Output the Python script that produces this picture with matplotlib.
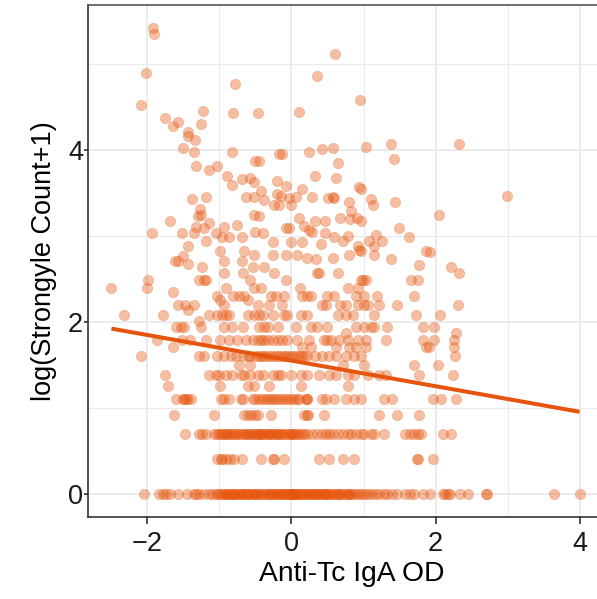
import numpy as np
import matplotlib
matplotlib.use("Agg")
import matplotlib.pyplot as plt

# ---- data: Anti-Tc IgA OD (x) grouped by strongyle count rows ----
x_count0 = [-2.05, -1.84, -1.78, -1.74, -1.69, -1.58, -1.45, -1.36, -1.33, -1.28, -1.21, -1.14, -1.10, -1.05,
            -1.02, -0.99, -0.96, -0.94, -0.91, -0.88, -0.86, -0.83, -0.80, -0.78, -0.75, -0.72, -0.70, -0.67,
            -0.64, -0.62, -0.59, -0.56, -0.54, -0.51, -0.48, -0.46, -0.43, -0.41, -0.38, -0.35, -0.33, -0.30,
            -0.27, -0.25, -0.22, -0.19, -0.17, -0.14, -0.12, -0.09, -0.06, -0.04, -0.01, 0.01, 0.03, 0.06, 0.08,
            0.11, 0.13, 0.16, 0.18, 0.21, 0.24, 0.26, 0.29, 0.31, 0.34, 0.37, 0.39, 0.42, 0.45, 0.47, 0.50, 0.53,
            0.55, 0.58, 0.61, 0.64, 0.66, 0.69, 0.72, 0.75, 0.78, 0.81, 0.84, 0.88, 0.92, 0.95, 0.99, 1.03, 1.07,
            1.12, 1.17, 1.22, 1.28, 1.33,
            -0.90, -0.70, -0.50, -0.30, -0.10, 0.00, 0.10, 0.20, 0.35, 0.50, 0.65, 0.80, -0.20, -0.60, -0.80,
            0.30, 0.45, 0.02, 0.05, -0.05,
            1.40, 1.47, 1.57, 1.65, 1.70, 1.82, 1.93, 2.10, 2.13, 2.17, 2.20, 2.34, 2.45, 2.70, 2.72, 3.64, 4.00]
x_count0_5 = [-1.03, -0.98, -0.96, -0.91, -0.85, -0.80, -0.69, -0.43, -0.26, -0.24, -0.10, 0.38, 0.52, 0.72,
              0.87, 1.74, 1.75, 1.96]
x_count1 = [-1.48, -1.28, -1.24, -1.19, -1.07, -1.04, -1.01, -0.98, -0.95, -0.92, -0.89, -0.86, -0.83, -0.80,
            -0.77, -0.74, -0.71, -0.68, -0.65, -0.62, -0.58, -0.55, -0.52, -0.49, -0.46, -0.43, -0.40, -0.37,
            -0.34, -0.31, -0.28, -0.25, -0.22, -0.19, -0.16, -0.13, -0.10, -0.07, -0.04, -0.01, 0.02, 0.05,
            0.08, 0.11, 0.14, 0.17, -0.45, -0.44, -0.90, -0.60, -0.20, 0.00, -0.30,
            0.22, 0.29, 0.36, 0.43, 0.48, 0.52, 0.57, 0.64, 0.71, 0.78, 0.82, 0.89, 0.96, 1.01, 1.10, 1.15,
            1.29, 1.57, 1.64, 1.70, 1.75, 1.80, 2.11, 2.21]
x_count1_5 = [-1.63, -1.07, -0.66, -0.61, -0.56, -0.50, -0.47, -0.29, 0.18, 0.22, 0.23, 0.45, 1.22, 1.47, 1.77]
x_count2 = [-1.61, -1.51, -1.49, -1.47, -1.44, -1.40, -0.98, -0.93, -0.87, -0.70, -0.68, -0.54, -0.50, -0.45,
            -0.41, -0.37, -0.33, -0.29, -0.25, -0.21, -0.17, -0.13, -0.09, -0.05, -0.01, 0.03, 0.07, 0.11,
            0.20, 0.21, 0.22, 0.43, 0.48, 0.59, 0.75, 0.87, 0.96, 1.29, 1.40, 1.96, 2.07, 2.28]
x_count2_5 = [-1.72, -0.99, -0.61, -0.52, -0.31, 0.13, 0.78]
x_count3 = [-1.75, -1.15, -1.05, -1.00, -0.91, -0.82, -0.70, -0.66, -0.57, -0.47, -0.40, -0.26, -0.19, -0.15,
            -0.01, 0.13, 0.22, 0.38, 0.52, 0.62, 0.78, 0.87, 1.06, 1.22, 1.31, 1.77, 2.24]
x_count3_5 = [-0.73, -0.57, 0.71, 1.01, 1.70, 2.03]
x_count4 = [-2.09, -1.28, -1.21, -1.03, -0.93, -0.84, -0.77, -0.68, -0.61, -0.57, -0.50, -0.47, -0.43, -0.39,
            -0.35, -0.31, -0.27, -0.23, -0.19, -0.15, -0.11, -0.07, -0.03, 0.01, 0.05, 0.09, 0.13, 0.17, 0.22,
            0.32, 0.43, 0.52, 0.62, 0.75, 0.87, 0.96, 2.27]
x_count4_5 = [-1.64, 0.15, 0.27, 0.62, 0.80, 0.89, 1.03, 1.87, 1.91, 2.25]
x_count5 = [-1.87, -1.52, -1.41, -1.18, -0.99, -0.87, -0.75, -0.63, -0.53, -0.47, -0.43, -0.38, -0.33, -0.26,
            -0.19, -0.13, -0.06, 0.08, 0.25, 0.45, 0.50, 0.55, 0.66, 0.78, 0.92, 1.03, 1.31, 1.82, 1.98, 2.26]
x_count5_5 = [0.75, 2.28]
x_count6 = [-1.61, -1.54, -1.49, -1.26, -0.93, -0.82, -0.67, -0.45, -0.38, -0.33, -0.19, 0.06, 0.27, 0.36,
            0.50, 0.89, 1.01, 1.10, 1.15, 1.33, 1.82, 1.98]
x_count6_5 = [-1.29]
x_count7 = [-2.32, -1.78, -1.15, -1.03, -0.96, -0.91, -0.87, -0.61, -0.52, -0.45, -0.40, -0.26, -0.10, -0.06,
            0.13, 0.22, 0.64, 0.75, 0.85, 1.15, 1.73, 2.06]
x_count7_5 = [-1.43]
x_count8 = [-1.58, -1.48, -1.35, -0.93, -0.47, -0.31, -0.13, 0.43, 0.48, 0.68, 0.75, 0.92, 1.01, 1.06, 1.22,
            1.47, 2.31]
x_count8_5 = [-0.99, -0.60]
x_count9 = [-1.04, -0.81, -0.73, -0.66, -0.29, -0.22, -0.10, 0.15, 0.22, 0.27, 0.50, 0.59, 0.89, 1.01, 1.19, 1.70]
x_count9_5 = [-1.65]
x_count10 = [-2.50, -2.01, -0.91, -0.52, -0.43, 0.12, 0.78, 0.92]
x_count11 = [-1.99, -1.29, -1.19, -1.21, -0.57, -0.07, 0.96, 0.99, 1.03, 1.66, 1.75]
x_count12 = [-0.94, -0.68, -0.24, 0.36, 0.38, 0.64, 2.33]
x_count13 = [-1.24, -0.53, -0.38, 2.21]

row_counts = [0, 0.5, 1, 1.5, 2, 2.5, 3, 3.5, 4, 4.5, 5, 5.5, 6, 6.5, 7, 7.5, 8, 8.5, 9, 9.5, 10, 11, 12, 13]
row_x = [x_count0, x_count0_5, x_count1, x_count1_5, x_count2, x_count2_5, x_count3, x_count3_5, x_count4,
         x_count4_5, x_count5, x_count5_5, x_count6, x_count6_5, x_count7, x_count7_5, x_count8, x_count8_5,
         x_count9, x_count9_5, x_count10, x_count11, x_count12, x_count13]

# higher counts, given directly as log(count+1)
upper_x = [-1.92, -1.91, -2.02, -2.09, -0.78, -0.81, -0.46, -1.23, -1.25, -1.76, -1.64, -1.57, -1.44, 0.61,
           0.35, 0.95, 0.10,
           -1.44, -1.34, -1.50, -1.35, -0.82, -1.33, -1.14, -1.03, -0.90, -0.83, -0.69, -0.58, -0.52, -0.50,
           -0.63, -0.52, -1.38, -1.18, -1.27, -1.26, -1.30, -1.69, -1.14, -1.33, -1.22, -1.93, -1.52, -1.35,
           -1.05, -0.94, -0.96, -0.87, -0.76, -0.69, -0.52, -0.50, -1.18, -1.44, -0.99, -0.66, -1.50, -1.62,
           -1.58, -1.43, -0.93, -0.69, -0.52,
           1.38, 1.42, 1.04, 0.58, 0.43, 0.25, -0.17, -0.125, -0.45, 0.64, 0.33, 0.62, -0.20, -0.08, 0.14,
           0.94, 0.96, -0.43, -0.20, -0.15, -0.04, 0.06, 0.29, 0.51, 0.57, 0.59, 0.80, 1.10, 1.13, 1.44,
           -0.38, -0.24, -0.17, -0.01, 0.82, -0.45, 0.10, 0.32, 0.46, 0.68, 0.81, 0.91, 0.97, 1.49, 1.63,
           -0.40, -0.08, -0.04, 0.18, 0.25, 0.29, 0.47, 0.59, 0.78, 1.08, 1.17, 1.25, 1.15, -0.26, -0.01,
           0.14, 0.41, 0.71, 0.92, 0.94, 0.80, 0.96, -0.26, -0.08, 0.08, 0.21, 0.34, 0.58, 1.15, 1.38, 1.77,
           1.87,
           2.32, 2.99, 2.05, 1.93]
upper_y = [5.42, 5.35, 4.90, 4.53, 4.77, 4.43, 4.43, 4.46, 4.31, 4.38, 4.28, 4.33, 4.21, 5.12,
           4.87, 4.58, 4.44,
           4.17, 4.12, 4.03, 3.98, 3.98, 3.82, 3.77, 3.82, 3.70, 3.60, 3.66, 3.68, 3.63, 3.88,
           3.46, 3.46, 3.43, 3.46, 3.32, 3.25, 3.23, 3.17, 3.15, 3.11, 3.09, 3.04, 3.04, 3.04,
           3.04, 3.11, 2.99, 2.99, 3.13, 2.99, 3.25, 3.05, 2.94, 2.88, 2.83, 2.83, 2.77, 2.71,
           2.71, 2.68, 2.71, 2.71, 2.78,
           4.07, 3.90, 4.04, 4.03, 4.01, 3.98, 3.96, 3.96, 3.88, 3.85, 3.70, 3.68, 3.64, 3.58, 3.55,
           3.57, 3.55, 3.52, 3.49, 3.47, 3.44, 3.46, 3.46, 3.44, 3.46, 3.44, 3.40, 3.43, 3.36, 3.40,
           3.42, 3.36, 3.36, 3.36, 3.29, 3.23, 3.21, 3.18, 3.17, 3.21, 3.20, 3.21, 3.18, 3.09, 2.99,
           3.04, 3.09, 3.09, 3.12, 3.07, 3.05, 3.04, 2.99, 3.00, 2.94, 3.01, 2.94, 2.89, 2.93, 2.93,
           2.93, 2.91, 2.94, 2.88, 2.84, 2.78, 2.83, 2.78, 2.78, 2.78, 2.74, 2.73, 2.74, 2.78, 2.73, 2.66,
           2.83,
           4.07, 3.47, 3.25, 2.82]

# linear fit shown in the chart
fit_intercept = 1.55
fit_slope = -0.149

x_ticks = [-2, 0, 2, 4]
y_ticks = [0, 2, 4]
x_title = "Anti-Tc IgA OD"
y_title = "log(Strongyle Count+1)"

# ---- assemble ----
xs = []
ys = []
for c, xr in zip(row_counts, row_x):
    xs.extend(xr)
    ys.extend([np.log1p(c)] * len(xr))
xs.extend(upper_x)
ys.extend(upper_y)
xs = np.array(xs)
ys = np.array(ys)

plt.rcParams['font.family'] = ['Liberation Sans', 'DejaVu Sans']
plt.rcParams['axes.unicode_minus'] = True

fig = plt.figure(figsize=(5.97, 5.99), dpi=100)
ax = fig.add_axes([88 / 597, 82 / 599, 515 / 597, 512 / 599])

color = '#E6550D'
ax.scatter(xs, ys, s=56, color=color, alpha=0.38, linewidths=0.4, edgecolors=color, zorder=3)

lx = np.array([xs.min(), xs.max()])
ax.plot(lx, fit_intercept + fit_slope * lx, color=color, lw=2.9, zorder=4, solid_capstyle='butt')

xmin, xmax = xs.min(), xs.max()
xr = xmax - xmin
ymin, ymax = ys.min(), ys.max()
yr = ymax - ymin
ax.set_xlim(xmin - 0.05 * xr, xmax + 0.05 * xr)
ax.set_ylim(ymin - 0.05 * yr, ymax + 0.05 * yr)

ax.set_xticks(x_ticks)
ax.set_yticks(y_ticks)
ax.set_xticks([-1, 1, 3], minor=True)
ax.set_yticks([1, 3, 5], minor=True)
ax.grid(True, which='major', color='#EBEBEB', lw=1.4, zorder=0)
ax.grid(True, which='minor', color='#EBEBEB', lw=0.8, zorder=0)
ax.set_axisbelow(True)
ax.tick_params(which='minor', length=0)
ax.tick_params(axis='x', which='major', length=5, width=1.2, color='#333333', labelsize=19.5,
               labelcolor='#1A1A1A', pad=5)
ax.tick_params(axis='y', which='major', length=3, width=1.2, color='#333333', labelsize=19.5,
               labelcolor='#1A1A1A', pad=0.5)

for side in ['left', 'bottom']:
    ax.spines[side].set_color('#333333')
    ax.spines[side].set_linewidth(1.2)
for side in ['top', 'right']:
    ax.spines[side].set_color('#555555')
    ax.spines[side].set_linewidth(1.2)

ax.set_xlabel(x_title, fontsize=20.3, color='black', labelpad=5)
ax.xaxis.set_label_coords(0.513, -0.085)
ax.set_ylabel(y_title, fontsize=19.5, color='black', labelpad=8)

fig.savefig('out.png', dpi=100)
